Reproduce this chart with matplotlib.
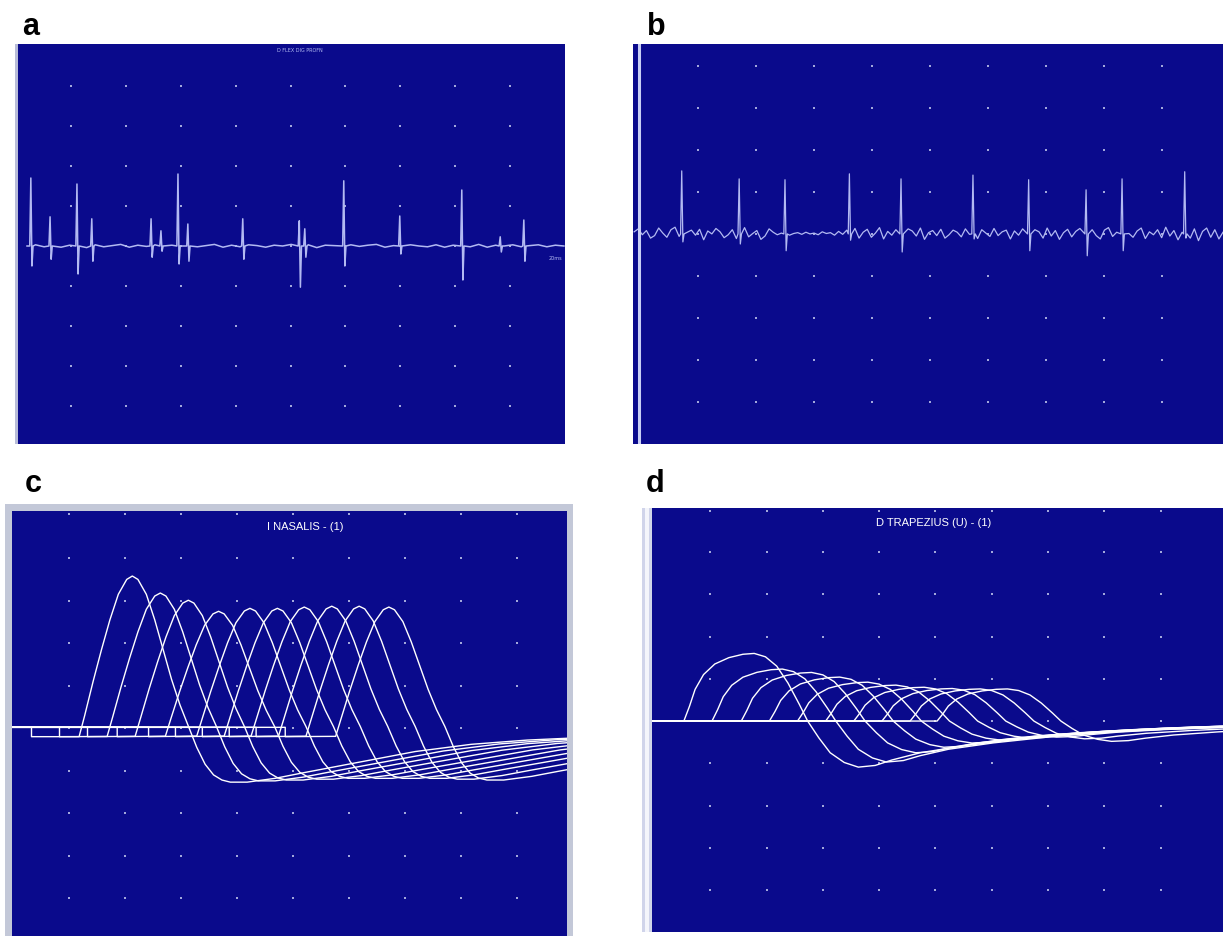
import numpy as np
import matplotlib.pyplot as plt
from matplotlib.patches import Rectangle

W, H = 1223, 937
SCREEN = '#0a0a8c'
TRACE_AB = '#b3baf2'
DOT = '#a3a8dc'

# ---- panel a : spikes (x in grid divisions, peak up, peak down)
a_spike_x = [0.27, 0.62, 1.11, 1.38, 2.46, 2.64, 2.95, 3.13, 4.13, 5.16, 5.26, 5.97, 6.99, 8.12, 8.82, 9.25]
a_spike_up = [1.70, 0.73, 1.55, 0.68, 0.68, 0.38, 1.80, 0.55, 0.68, 0.63, 0.43, 1.63, 0.75, 1.40, 0.23, 0.65]
a_spike_dn = [-0.50, -0.33, -0.70, -0.38, -0.28, -0.13, -0.45, -0.38, -0.33, -1.03, -0.28, -0.50, -0.20, -0.85, -0.15, -0.38]
a_noise = [0.00, 0.03, -0.02, 0.04, -0.03, 0.02, 0.05, -0.04, 0.03, -0.02, 0.01, 0.04, -0.03, 0.02, -0.01, 0.03,
           -0.04, 0.02, 0.00, 0.03, -0.02, 0.01, 0.04, -0.03, 0.02, -0.02, 0.03, 0.01, -0.03, 0.02, 0.00, 0.04,
           -0.02, 0.03, -0.04, 0.02, 0.01, -0.03, 0.03, -0.01, 0.02, 0.04, -0.03, 0.01, -0.02, 0.03, 0.00, -0.02,
           0.03, -0.03, 0.02, 0.01, -0.02, 0.04, -0.03, 0.02, 0.00, 0.03, -0.02, 0.01, 0.03, -0.02, 0.02, 0.00]

# ---- panel b
b_spike_x = [0.72, 1.71, 2.50, 3.61, 4.50, 5.74, 6.70, 7.69, 8.31, 9.39]
b_spike_up = [1.50, 1.31, 1.29, 1.43, 1.31, 1.40, 1.29, 1.05, 1.31, 1.48]
b_spike_dn = [-0.19, -0.24, -0.40, -0.15, -0.43, -0.12, -0.40, -0.52, -0.40, -0.10]
b_noise = [0.05, 0.12, -0.02, 0.08, -0.10, -0.04, 0.14, 0.02, -0.08, 0.10, 0.16, -0.06, -0.12, 0.04, 0.09,
           -0.03, 0.11, -0.14, 0.07, 0.00, 0.13, 0.05, -0.09, -0.02, 0.10, -0.11, 0.03, 0.15, -0.07, 0.01,
           0.08, -0.13, -0.05, 0.12, 0.04, -0.02, 0.02, 0.05, -0.03, 0.01, 0.03, -0.01, 0.04, 0.00, 0.02,
           -0.02, 0.05, 0.01, 0.03, -0.03, 0.06, -0.01, 0.09, -0.06, 0.13, -0.10, 0.04, 0.11, -0.08, 0.02,
           0.15, -0.12, 0.06, -0.03, 0.10, 0.01, -0.09, 0.12, 0.07, -0.05, 0.14, -0.13, 0.03, 0.08, -0.04,
           0.11, -0.10, -0.02, 0.09, 0.04, -0.07, 0.12, -0.01, 0.06, -0.11, 0.10, 0.02, -0.06, 0.13, -0.04,
           0.05, 0.09, -0.12, 0.07, -0.03, 0.12, 0.00, -0.08, 0.10, 0.05, -0.10, 0.14, -0.05, 0.08, -0.13,
           0.03, 0.11, -0.07, 0.06, 0.13, -0.09, 0.02, 0.10, -0.04, -0.12, 0.09, 0.15, -0.06, 0.04, -0.10,
           0.12, 0.01, -0.08, 0.07, 0.14, -0.11, 0.05, -0.02, 0.10, -0.09, 0.16, -0.05, 0.08, -0.14, 0.04,
           0.18, -0.10, 0.12, -0.16, 0.06, 0.14, -0.08, 0.10, -0.12, 0.04]

c_tpl_dx = [0.00, 0.10, 0.25, 0.40, 0.55, 0.70, 0.85, 0.95, 1.05, 1.20, 1.35, 1.50, 1.65, 1.80, 1.95,
            2.10, 2.25, 2.40, 2.55, 2.70, 3.00, 3.50, 4.00, 5.00, 6.00, 7.00, 8.00, 9.00]
c_tpl_y = [-0.20, 0.30, 1.10, 1.85, 2.55, 3.15, 3.50, 3.58, 3.50, 3.15, 2.55, 1.85, 1.15, 0.55, 0.05,
           -0.45, -0.85, -1.10, -1.22, -1.27, -1.27, -1.18, -1.05, -0.80, -0.55, -0.38, -0.28, -0.22]
c_step = [0.33, 0.83, 1.33, 1.86, 2.42, 2.90, 3.38, 3.86, 4.34, 4.86]
c_onset = [1.18, 1.68, 2.18, 2.72, 3.28, 3.77, 4.25, 4.74, 5.23, 5.76]
c_peak = [3.58, 3.18, 3.01, 2.75, 2.82, 2.82, 2.85, 2.87, 2.87, 2.85]
c_trough = [-1.27, -1.24, -1.22, -1.20, -1.18, -1.18, -1.18, -1.18, -1.20, -1.22]

# ---- panel d
d_tpl_dx = [0.00, 0.10, 0.20, 0.35, 0.55, 0.80, 1.05, 1.25, 1.45, 1.65, 1.85, 2.05, 2.20, 2.40, 2.60,
            2.85, 3.10, 3.40, 3.70, 4.20, 5.00, 6.00, 7.00, 8.00, 9.50, 11.0]
d_tpl_y = [0.00, 0.35, 0.75, 1.10, 1.35, 1.50, 1.58, 1.60, 1.52, 1.30, 0.90, 0.40, 0.00, -0.40, -0.75,
           -0.98, -1.09, -1.05, -0.92, -0.75, -0.58, -0.42, -0.30, -0.22, -0.15, -0.10]
d_onset = [0.53, 1.03, 1.55, 2.05, 2.55, 3.05, 3.55, 4.05, 4.55, 5.03]
d_peak = [1.60, 1.23, 1.15, 1.04, 0.92, 0.85, 0.80, 0.77, 0.76, 0.76]
d_trough = [-1.09, -0.97, -0.75, -0.62, -0.52, -0.45, -0.40, -0.38, -0.42, -0.48]

fig = plt.figure(figsize=(W / 100, H / 100), dpi=100)


def px_rect(x0, y0, x1, y1, color, z=-1):
    fig.add_artist(Rectangle((x0 / W, 1 - y1 / H), (x1 - x0) / W, (y1 - y0) / H,
                             transform=fig.transFigure, color=color, lw=0, zorder=z))


def px_axes(x0, y0, x1, y1, xlim, ylim, top_ticks=False):
    ax = fig.add_axes([x0 / W, 1 - y1 / H, (x1 - x0) / W, (y1 - y0) / H])
    ax.set_facecolor(SCREEN)
    ax.set_xlim(xlim)
    ax.set_ylim(ylim)
    ax.set_xticks([])
    ax.set_yticks([])
    for s in ax.spines.values():
        s.set_visible(False)
    gx, gy = np.meshgrid(range(1, 10), range(-4, 5))
    ax.scatter(gx.ravel(), gy.ravel(), s=3.5, marker='s', color=DOT, lw=0, zorder=1)
    if top_ticks:
        ax.scatter(range(1, 10), [ylim[1] - 0.08] * 9, s=3.5, marker='s', color=DOT, lw=0, zorder=1)
    return ax


def spike_trace(noise, spx, up, dn, x0, x1, d=0.02):
    nx = np.linspace(x0, x1, len(noise))
    ny = np.array(noise)
    keep = np.ones(len(nx), bool)
    for s in spx:
        keep &= ~((nx > s - 2 * d) & (nx < s + 3 * d))
    xs = list(nx[keep])
    ys = list(ny[keep])
    for s, u, v in zip(spx, up, dn):
        xs += [s - d, s, s + d, s + 2 * d]
        ys += [0, u, v, 0]
    order = np.argsort(xs)
    return np.array(xs)[order], np.array(ys)[order]


def shaped(tpl_dx, tpl_y, onset, peak, trough):
    ty = np.array(tpl_y)
    ty = np.where(ty > 0, ty * peak / ty.max(), ty * trough / ty.min())
    return onset + np.array(tpl_dx), ty


lab = dict(fontsize=22, fontweight='bold', family=['Liberation Sans', 'DejaVu Sans'], va='baseline')
small = dict(color='white', ha='center', va='center', family=['Liberation Sans Narrow', 'Liberation Sans', 'DejaVu Sans'])

# ---------------- a
px_rect(15, 45, 19, 445, '#b8bcd8')
ax = px_axes(18, 45, 565, 445, (0.036, 10.0), (-4.95, 5.05))
x, y = spike_trace(a_noise, a_spike_x, a_spike_up, a_spike_dn, 0.2, 9.98)
ax.plot(x, y, color=TRACE_AB, lw=1.1)
fig.text(22 / W, 1 - 35 / H, 'a', **lab)
fig.text(300 / W, 1 - 50 / H, 'D FLEX DIG PROFN', color=TRACE_AB, fontsize=3.5, ha='center', va='center')
fig.text(555 / W, 1 - 258 / H, '20ms', color=TRACE_AB, fontsize=3.5, ha='center', va='center')

# ---------------- b
ax = px_axes(633, 45, 1223, 445, (-0.12, 10.05), (-5.0, 4.52))
x, y = spike_trace(b_noise, b_spike_x, b_spike_up, b_spike_dn, -0.1, 10.05)
ax.plot(x, y, color=TRACE_AB, lw=0.9)
ax.axvline(-0.01, color='#c8cef5', lw=2.2)
fig.text(647 / W, 1 - 35 / H, 'b', **lab)

# ---------------- c
px_rect(5, 505, 573, 937, '#c3c8d8')
ax = px_axes(12, 512, 567, 937, (-0.018, 9.89), (-4.89, 5.11), top_ticks=True)
for k in range(len(c_onset)):
    tx, ty = shaped(c_tpl_dx, c_tpl_y, c_onset[k], c_peak[k], c_trough[k])
    xs = [-0.02, c_step[k], c_step[k]] + list(tx)
    ys = [0.02, 0.02, -0.2] + list(ty)
    ax.plot(xs, ys, color='white', lw=1.0)
fig.text(25 / W, 1 - 492 / H, 'c', **lab)
fig.text(305 / W, 1 - 527 / H, 'I NASALIS - (1)', fontsize=8, **small)

# ---------------- d
px_rect(642, 509, 652, 933, '#d0d4ea')
px_rect(645, 509, 649, 933, '#f4f5fb', z=-0.5)
ax = px_axes(652, 509, 1223, 933, (-0.036, 10.11), (-4.99, 5.04), top_ticks=True)
for k in range(len(d_onset)):
    tx, ty = shaped(d_tpl_dx, d_tpl_y, d_onset[k], d_peak[k], d_trough[k])
    xs = [-0.04] + list(tx)
    ys = [0.0] + list(ty)
    ax.plot(xs, ys, color='white', lw=1.0)
fig.text(646 / W, 1 - 492 / H, 'd', **lab)
fig.text(934 / W, 1 - 523 / H, 'D TRAPEZIUS (U) - (1)', fontsize=8, **small)

fig.savefig('out.png', dpi=100)
